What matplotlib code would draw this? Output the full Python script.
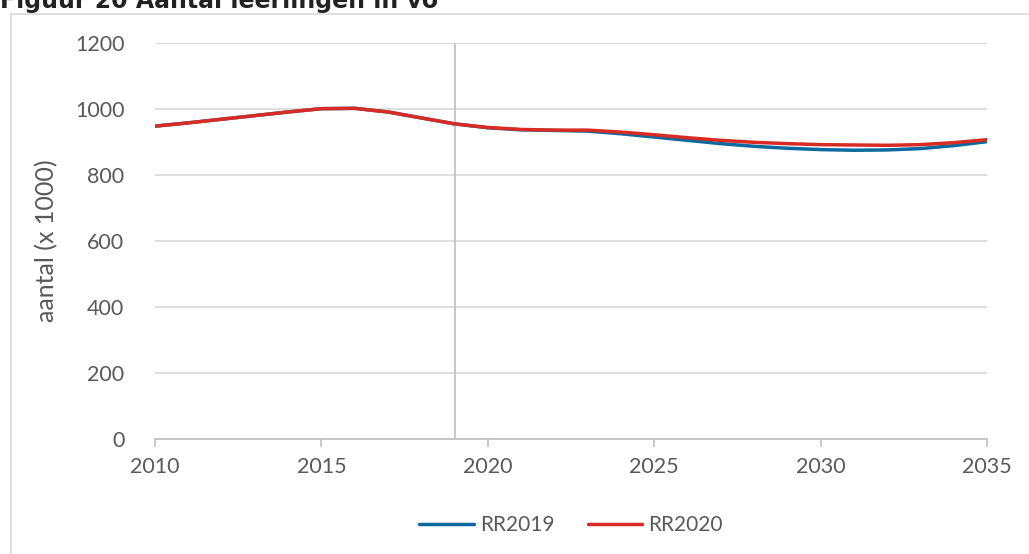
import numpy as np
import matplotlib.pyplot as plt
from matplotlib.lines import Line2D

jaren = list(range(2010, 2036))
rr2019 = [948, 958, 969, 980, 991, 1001, 1002, 991, 973, 955, 943, 937, 935,
          933, 925, 915, 905, 895, 887, 881, 877, 875, 876, 880, 889, 901]
rr2020 = [948, 958, 969, 980, 991, 1001, 1002, 991, 973, 955, 944, 938, 936,
          936, 930, 922, 913, 905, 899, 895, 892, 891, 890, 892, 898, 907]
x_ticks = [2010, 2015, 2020, 2025, 2030, 2035]
y_ticks = [0, 200, 400, 600, 800, 1000, 1200]
grens_jaar = 2019

blauw = '#0b6a9e'
rood = '#d92b24'
grijs = '#595959'

plt.rcParams['font.family'] = ['Lato', 'DejaVu Sans']

fig = plt.figure(figsize=(10.29, 5.54), dpi=100)

# kader en (afgesneden) titel
fig.add_artist(Line2D([11/1029, 1], [1 - 14/554] * 2, color='#d9d9d9', lw=1.2))
fig.add_artist(Line2D([11/1029] * 2, [0, 1 - 14/554], color='#d9d9d9', lw=1.2))
fig.text(0.0, 1 - 8/554, "Figuur 20 Aantal leerlingen in vo", family='DejaVu Sans',
         fontweight='bold', fontsize=17, color='#222222', va='baseline', ha='left')

ax = fig.add_axes([155/1029, 1 - 439/554, 832/1029, 396/554])
ax.plot(jaren, rr2019, color=blauw, lw=2.5, label='RR2019', solid_capstyle='round')
ax.plot(jaren, rr2020, color=rood, lw=2.5, label='RR2020', solid_capstyle='round')
ax.axvline(grens_jaar, color='#bfbfbf', lw=1.2, zorder=1)

ax.set_xlim(2010, 2035)
ax.set_ylim(0, 1200)
ax.set_xticks(x_ticks)
ax.set_yticks(y_ticks)
ax.grid(axis='y', color='#d9d9d9', lw=1.2)
ax.set_axisbelow(True)
for s in ['top', 'right', 'left']:
    ax.spines[s].set_visible(False)
ax.spines['bottom'].set_color('#bfbfbf')
ax.spines['bottom'].set_linewidth(1.2)
ax.tick_params(axis='x', direction='out', length=6, color='#bfbfbf', width=1.2,
               labelsize=15.5, labelcolor=grijs, pad=7)
ax.tick_params(axis='y', length=0, labelsize=15.5, labelcolor=grijs, pad=22)
ax.set_ylabel('aantal (x 1000)', fontsize=18, color=grijs, labelpad=12)

ax.legend(loc='upper center', bbox_to_anchor=(0.5, -0.145), ncol=2, frameon=False,
          fontsize=15, labelcolor=grijs, handlelength=2.6, handletextpad=0.3,
          columnspacing=1.6)

plt.savefig('out.png', dpi=100)
